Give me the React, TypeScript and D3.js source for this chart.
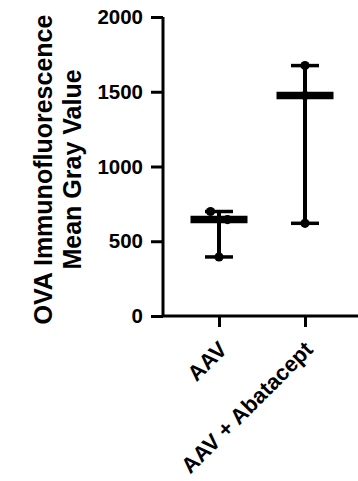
import { useEffect, useRef } from "react";
import * as d3 from "d3";

const groups = ["AAV", "AAV + Abatacept"];
const aavValues = [699, 645, 395];
const abataceptValues = [1675, 1475, 620];
const yTicks = [0, 500, 1000, 1500, 2000];
const yTitle = ["OVA Immunofluorescence", "Mean Gray Value"];

export default function App() {
  const svgRef = useRef<SVGSVGElement>(null);

  useEffect(() => {
    if (!svgRef.current) return;
    const svg = d3.select(svgRef.current);
    svg.selectAll("*").remove();

    const width = 358;
    const height = 481;
    const font = "'Liberation Sans', Arial, sans-serif";

    const y = d3.scaleLinear().domain([0, 2000]).range([316, 17]);
    const x = d3.scalePoint<string>().domain(groups).range([163, 361]).padding(0.651);

    const series = [aavValues, abataceptValues];

    // y axis
    const yAxis = svg.append("g").attr("transform", "translate(163,0)")
      .call(d3.axisLeft(y).tickValues(yTicks).tickSize(12).tickPadding(8).tickFormat(d3.format("d")));
    yAxis.select(".domain").attr("stroke", "#000").attr("stroke-width", 3)
      .attr("d", `M0,${y(2000)}V${y(0)}`);
    yAxis.selectAll(".tick line").attr("stroke", "#000").attr("stroke-width", 3);
    yAxis.selectAll(".tick text")
      .attr("fill", "#000")
      .style("font-family", font)
      .style("font-weight", "bold")
      .style("font-size", "20.5px");

    // x axis
    const xAxis = svg.append("g").attr("transform", `translate(0,${y(0)})`)
      .call(d3.axisBottom(x).tickSize(11).tickPadding(0));
    xAxis.select(".domain").attr("stroke", "#000").attr("stroke-width", 3)
      .attr("d", `M162,0H${width}`);
    xAxis.selectAll(".tick line").attr("stroke", "#000").attr("stroke-width", 3);
    xAxis.selectAll(".tick text")
      .attr("fill", "#000")
      .attr("text-anchor", "end")
      .attr("dy", null)
      .attr("transform", "translate(1,27) rotate(-45)")
      .style("font-family", font)
      .style("font-weight", "bold")
      .style("font-size", "22px");

    // y title
    const title = svg.append("text")
      .attr("transform", `translate(52,${(y(0) + y(2000)) / 2 + 3}) rotate(-90)`)
      .attr("text-anchor", "middle")
      .style("font-family", font)
      .style("font-weight", "bold")
      .style("font-size", "25px")
      .attr("fill", "#000");
    yTitle.forEach((t, i) => {
      title.append("tspan").attr("x", 0).attr("dy", i === 0 ? 0 : 29).text(t);
    });

    const spread = 17;
    const r = 4.6;

    series.forEach((vals, gi) => {
      const cx = x(groups[gi])!;
      const median = d3.median(vals)!;
      const lo = d3.min(vals)!;
      const hi = d3.max(vals)!;
      const g = svg.append("g");

      // range whisker
      g.append("line").attr("x1", cx).attr("x2", cx).attr("y1", y(lo)).attr("y2", y(hi))
        .attr("stroke", "#000").attr("stroke-width", 4);
      [lo, hi].forEach((v) => {
        g.append("line").attr("x1", cx - 14).attr("x2", cx + 14).attr("y1", y(v)).attr("y2", y(v))
          .attr("stroke", "#000").attr("stroke-width", 3.5);
      });

      // points, dodged sideways when they overlap
      const sorted = [...vals].sort((a, b) => b - a);
      const clusters: number[][] = [];
      sorted.forEach((v) => {
        const last = clusters[clusters.length - 1];
        if (last && Math.abs(y(last[last.length - 1]) - y(v)) < 2 * r + 2) last.push(v);
        else clusters.push([v]);
      });
      clusters.forEach((c) => {
        c.forEach((v, i) => {
          g.append("circle")
            .attr("cx", cx + (i - (c.length - 1) / 2) * spread)
            .attr("cy", y(v))
            .attr("r", r)
            .attr("fill", "#000");
        });
      });

      // median bar
      g.append("line").attr("x1", cx - 28.5).attr("x2", cx + 28.5).attr("y1", y(median)).attr("y2", y(median))
        .attr("stroke", "#000").attr("stroke-width", 7.5);
    });

    svg.attr("width", width).attr("height", height);
  }, []);

  return (
    <svg
      ref={svgRef}
      width={358}
      height={481}
      style={{ position: "absolute", left: 0, top: 0, background: "#fff" }}
    />
  );
}
